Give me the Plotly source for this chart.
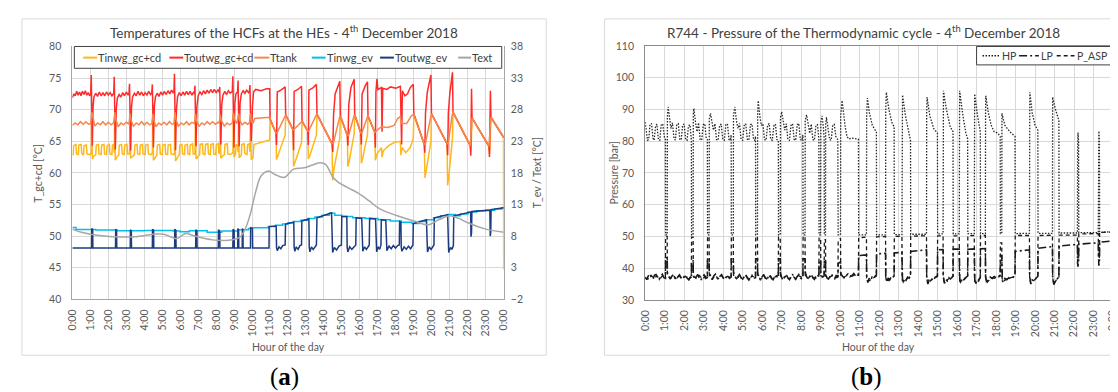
import plotly.graph_objects as go

W, H = 1118, 392
FONT = "Lato"

HOURS = list(range(25))
HOUR_LABELS = ["0:00", "1:00", "2:00", "3:00", "4:00", "5:00", "6:00", "7:00", "8:00", "9:00",
               "10:00", "11:00", "12:00", "13:00", "14:00", "15:00", "16:00", "17:00", "18:00",
               "19:00", "20:00", "21:00", "22:00", "23:00", "0:00"]
T_GC_TICKS = [40, 45, 50, 55, 60, 65, 70, 75, 80]
T_EV_TICKS = [-2, 3, 8, 13, 18, 23, 28, 33, 38]
P_TICKS = [30, 40, 50, 60, 70, 80, 90, 100, 110]

# ---------------- (a) temperatures, primary axis [°C] ----------------
TINWG_GC = [
    (0.00, 62.8), (0.04, 62.9), (0.07, 64.3), (0.20, 64.5), (0.23, 63.0), (0.33, 62.9), (0.36, 64.4),
    (0.49, 64.5), (0.52, 63.1), (0.62, 62.8), (0.65, 64.3), (0.78, 64.4), (0.81, 63.0), (0.98, 62.9),
    (1.05, 63.2), (1.08, 69.3), (1.11, 62.2), (1.18, 62.6), (1.30, 62.9), (1.33, 64.4), (1.45, 64.5),
    (1.48, 63.0), (1.60, 62.9), (1.63, 64.4), (1.76, 64.5), (1.79, 63.0), (1.90, 62.9), (1.93, 64.3),
    (2.06, 64.5), (2.09, 63.0), (2.20, 62.9), (2.23, 64.4), (2.30, 64.5), (2.33, 63.2), (2.36, 69.5),
    (2.39, 62.0), (2.48, 62.5), (2.58, 62.8), (2.61, 64.4), (2.74, 64.5), (2.77, 63.0), (2.88, 62.9),
    (2.91, 64.4), (3.04, 64.5), (3.07, 63.0), (3.15, 63.0), (3.18, 63.2), (3.21, 69.2), (3.24, 62.3),
    (3.35, 62.7), (3.45, 62.9), (3.48, 64.4), (3.60, 64.5), (3.63, 63.0), (3.75, 62.9), (3.78, 64.4),
    (3.90, 64.5), (3.93, 63.0), (4.05, 62.9), (4.08, 64.4), (4.20, 64.5), (4.23, 63.0), (4.40, 62.9),
    (4.45, 63.2), (4.48, 69.0), (4.51, 62.0), (4.60, 62.5), (4.70, 62.8), (4.73, 64.4), (4.86, 64.5),
    (4.89, 63.0), (5.00, 62.9), (5.03, 64.4), (5.16, 64.5), (5.19, 63.0), (5.30, 62.9), (5.33, 64.4),
    (5.46, 64.5), (5.49, 63.0), (5.64, 62.9), (5.68, 63.2), (5.71, 69.4), (5.74, 61.9), (5.84, 62.5),
    (5.95, 62.9), (5.98, 64.4), (6.10, 64.5), (6.13, 63.0), (6.24, 62.9), (6.27, 64.4), (6.40, 64.5),
    (6.43, 63.0), (6.53, 62.9), (6.56, 64.4), (6.69, 64.6), (6.72, 63.0), (6.80, 63.0), (6.82, 63.2),
    (6.85, 69.0), (6.88, 62.2), (6.98, 62.6), (7.08, 62.9), (7.11, 64.5), (7.24, 64.6), (7.27, 63.0),
    (7.38, 62.9), (7.41, 64.5), (7.54, 64.6), (7.57, 63.0), (7.68, 62.9), (7.71, 64.5), (7.84, 64.6),
    (7.87, 63.0), (7.98, 62.9), (8.01, 64.5), (8.12, 64.6), (8.15, 63.1), (8.20, 63.2), (8.23, 69.0),
    (8.26, 62.3), (8.36, 62.7), (8.46, 62.9), (8.49, 64.5), (8.62, 64.6), (8.65, 63.0), (8.80, 62.9),
    (8.93, 63.2), (8.96, 69.3), (8.99, 62.5), (9.08, 63.0), (9.11, 64.4), (9.19, 64.5), (9.22, 63.3),
    (9.25, 69.2), (9.28, 62.4), (9.40, 62.8), (9.43, 64.5), (9.56, 64.6), (9.59, 63.1), (9.72, 62.9),
    (9.75, 64.5), (9.84, 64.6), (9.88, 63.3), (9.91, 69.0), (9.95, 62.1), (10.05, 62.4), (10.10, 64.5),
    (10.50, 64.8), (10.98, 65.2), (11.00, 68.5), (11.33, 66.3), (11.36, 62.1), (11.45, 62.8),
    (11.84, 66.0), (11.87, 69.2), (12.28, 66.8), (12.31, 61.0), (12.40, 61.8), (12.75, 64.8),
    (12.78, 68.2), (13.10, 66.6), (13.13, 62.2), (13.22, 62.8), (13.58, 66.0), (13.61, 69.3),
    (14.45, 64.6), (14.48, 58.8), (14.55, 60.5), (14.88, 65.5), (14.91, 69.0), (15.30, 65.9),
    (15.33, 61.0), (15.40, 61.8), (15.68, 66.2), (15.71, 69.2), (16.05, 66.3), (16.08, 61.5),
    (16.15, 62.3), (16.42, 66.0), (16.45, 69.0), (16.83, 66.4), (16.86, 62.0), (16.95, 63.0),
    (17.20, 64.0), (17.23, 62.5), (17.30, 63.5), (17.60, 64.3), (17.90, 64.8), (18.25, 65.0),
    (18.28, 62.8), (18.35, 64.0), (18.55, 63.2), (18.80, 64.0), (18.97, 65.5), (19.00, 69.3),
    (19.58, 64.5), (19.62, 59.2), (19.70, 60.5), (19.95, 65.0), (19.98, 69.4), (20.85, 64.6),
    (20.88, 58.0), (20.95, 59.5), (21.15, 65.5), (21.18, 69.6), (22.14, 64.3), (22.17, 63.5),
    (22.21, 66.0), (22.24, 68.7), (23.18, 64.2), (23.21, 63.0), (23.26, 66.0), (23.29, 68.8),
    (23.99, 65.6), (24.00, 44.7)]

TOUTWG_GC = [
    (0.00, 71.9), (0.08, 72.5), (0.16, 72.2), (0.24, 72.9), (0.32, 72.3), (0.40, 72.8), (0.48, 72.2),
    (0.56, 72.9), (0.64, 72.4), (0.72, 73.0), (0.80, 72.3), (0.88, 72.7), (0.96, 72.2), (1.02, 72.5),
    (1.05, 75.5), (1.08, 69.5), (1.11, 64.3), (1.15, 70.5), (1.20, 72.0), (1.30, 72.6), (1.40, 72.1),
    (1.50, 72.8), (1.60, 72.2), (1.70, 72.7), (1.80, 72.2), (1.90, 72.8), (2.00, 72.3), (2.10, 72.7),
    (2.20, 72.2), (2.30, 72.6), (2.33, 75.2), (2.36, 69.6), (2.39, 63.7), (2.44, 70.0), (2.50, 71.8),
    (2.60, 72.4), (2.70, 72.0), (2.80, 72.7), (2.90, 72.2), (3.00, 72.8), (3.10, 72.3), (3.15, 72.6),
    (3.18, 74.1), (3.21, 69.3), (3.24, 63.5), (3.29, 70.5), (3.35, 72.0), (3.45, 72.6), (3.55, 72.2),
    (3.65, 72.9), (3.75, 72.3), (3.85, 72.8), (3.95, 72.2), (4.05, 72.7), (4.15, 72.3), (4.25, 72.9),
    (4.35, 72.4), (4.42, 72.7), (4.45, 74.0), (4.48, 69.3), (4.51, 64.0), (4.56, 70.5), (4.62, 72.0),
    (4.72, 72.6), (4.82, 72.1), (4.92, 72.8), (5.02, 72.3), (5.12, 72.9), (5.22, 72.4), (5.32, 73.0),
    (5.42, 72.5), (5.52, 73.1), (5.62, 72.6), (5.65, 72.8), (5.68, 75.7), (5.71, 69.6), (5.74, 63.6),
    (5.79, 70.0), (5.85, 72.0), (5.95, 72.7), (6.05, 72.2), (6.15, 72.8), (6.25, 72.3), (6.35, 72.9),
    (6.45, 72.4), (6.55, 72.9), (6.65, 72.3), (6.75, 72.8), (6.79, 72.5), (6.82, 73.8), (6.85, 69.3),
    (6.88, 64.2), (6.93, 70.5), (7.00, 72.2), (7.10, 72.8), (7.20, 72.4), (7.30, 73.0), (7.40, 72.5),
    (7.50, 73.1), (7.60, 72.6), (7.70, 73.2), (7.80, 72.7), (7.90, 73.2), (8.00, 72.7), (8.10, 73.1),
    (8.17, 72.8), (8.20, 73.6), (8.23, 69.2), (8.26, 64.5), (8.31, 70.8), (8.38, 72.3), (8.48, 72.9),
    (8.58, 72.4), (8.68, 73.0), (8.78, 72.6), (8.90, 72.9), (8.93, 75.3), (8.96, 69.5), (8.99, 64.0),
    (9.04, 71.0), (9.10, 72.5), (9.19, 72.8), (9.22, 74.6), (9.25, 69.4), (9.28, 64.2), (9.33, 71.0),
    (9.40, 72.5), (9.50, 73.0), (9.60, 72.6), (9.70, 73.1), (9.80, 72.7), (9.85, 72.9), (9.88, 73.9),
    (9.91, 69.4), (9.95, 65.0), (10.02, 70.5), (10.08, 72.8), (10.20, 73.2), (10.50, 73.0),
    (10.80, 73.3), (10.98, 73.3), (11.00, 68.5), (11.33, 66.3), (11.36, 64.4), (11.40, 72.8),
    (11.60, 73.1), (11.84, 73.6), (11.87, 69.2), (12.28, 66.8), (12.31, 63.6), (12.34, 72.9),
    (12.55, 73.2), (12.75, 73.7), (12.78, 68.2), (13.10, 66.6), (13.13, 64.4), (13.16, 73.1),
    (13.40, 73.5), (13.58, 74.0), (13.61, 69.3), (14.45, 64.6), (14.49, 63.3), (14.53, 69.0),
    (14.62, 72.5), (14.75, 73.6), (14.88, 74.5), (14.91, 69.0), (15.30, 65.9), (15.33, 64.3),
    (15.38, 70.8), (15.50, 73.5), (15.68, 74.8), (15.71, 69.2), (16.05, 66.3), (16.08, 64.5),
    (16.12, 72.5), (16.30, 73.8), (16.42, 74.4), (16.45, 69.0), (16.83, 66.4), (16.86, 64.0),
    (16.89, 72.8), (16.95, 74.9), (17.00, 73.2), (17.20, 73.5), (17.23, 66.5), (17.27, 73.4),
    (17.50, 73.2), (17.70, 73.6), (18.00, 73.4), (18.25, 73.7), (18.28, 66.0), (18.32, 64.5),
    (18.36, 73.0), (18.50, 72.2), (18.65, 72.5), (18.80, 73.5), (18.97, 74.0), (19.00, 69.3),
    (19.58, 64.5), (19.61, 63.2), (19.65, 69.5), (19.75, 72.8), (19.95, 75.5), (19.98, 69.4),
    (20.85, 64.6), (20.88, 62.8), (20.92, 69.5), (21.00, 72.5), (21.15, 75.9), (21.18, 69.6),
    (22.14, 64.3), (22.17, 62.7), (22.21, 73.3), (22.24, 68.7), (23.18, 64.2), (23.21, 62.5),
    (23.26, 73.0), (23.29, 68.8), (24.00, 65.6)]

TTANK = [
    (0.00, 67.5), (0.15, 67.9), (0.30, 67.6), (0.45, 68.1), (0.60, 67.7), (0.75, 68.1), (0.90, 67.7),
    (1.02, 67.8), (1.08, 69.6), (1.14, 68.6), (1.25, 67.4), (1.40, 67.9), (1.55, 67.6), (1.70, 68.1),
    (1.85, 67.6), (2.00, 68.0), (2.15, 67.6), (2.30, 67.9), (2.36, 69.6), (2.42, 68.4), (2.55, 67.3),
    (2.70, 67.9), (2.85, 67.6), (3.00, 68.0), (3.15, 67.7), (3.21, 69.4), (3.27, 68.3), (3.40, 67.4),
    (3.55, 67.9), (3.70, 67.6), (3.85, 68.1), (4.00, 67.6), (4.15, 68.0), (4.30, 67.6), (4.42, 67.8),
    (4.48, 69.3), (4.54, 68.3), (4.65, 67.3), (4.80, 67.9), (4.95, 67.6), (5.10, 68.0), (5.25, 67.6),
    (5.40, 68.1), (5.55, 67.7), (5.65, 67.8), (5.71, 69.6), (5.77, 68.4), (5.90, 67.4), (6.05, 67.9),
    (6.20, 67.6), (6.35, 68.1), (6.50, 67.6), (6.65, 68.0), (6.79, 67.8), (6.85, 69.3), (6.91, 68.2),
    (7.05, 67.4), (7.20, 67.9), (7.35, 67.6), (7.50, 68.1), (7.65, 67.7), (7.80, 68.1), (7.95, 67.7),
    (8.10, 68.0), (8.17, 67.8), (8.23, 69.2), (8.29, 68.3), (8.45, 67.4), (8.60, 67.9), (8.75, 67.6),
    (8.90, 67.9), (8.96, 69.5), (9.02, 68.5), (9.15, 67.8), (9.25, 69.4), (9.31, 68.3), (9.45, 67.6),
    (9.60, 68.0), (9.75, 67.7), (9.85, 67.9), (9.91, 69.4), (9.97, 68.0), (10.05, 67.9), (10.15, 68.6),
    (10.50, 68.7), (10.98, 68.8), (11.00, 68.5), (11.33, 66.3), (11.40, 66.4), (11.84, 69.1),
    (11.87, 69.2), (12.28, 66.8), (12.34, 66.9), (12.75, 68.1), (12.78, 68.2), (13.10, 66.6),
    (13.16, 66.7), (13.58, 69.2), (13.61, 69.3), (14.45, 64.6), (14.53, 64.8), (14.88, 68.9),
    (14.91, 69.0), (15.30, 65.9), (15.38, 66.0), (15.68, 69.1), (15.71, 69.2), (16.05, 66.3),
    (16.12, 66.4), (16.42, 68.9), (16.45, 69.0), (16.83, 66.4), (16.89, 66.6), (17.20, 67.3),
    (17.55, 67.2), (17.90, 67.5), (18.10, 68.6), (18.25, 68.9), (18.32, 67.8), (18.60, 67.8),
    (18.85, 69.0), (19.00, 69.3), (19.58, 64.5), (19.65, 64.7), (19.95, 69.2), (19.98, 69.4),
    (20.85, 64.6), (20.92, 64.9), (21.15, 69.4), (21.18, 69.6), (22.14, 64.3), (22.21, 68.5),
    (22.24, 68.7), (23.18, 64.2), (23.26, 68.6), (23.29, 68.8), (24.00, 65.6)]

# ---------------- (a) secondary axis [°C] ----------------
TINWG_EV = [
    (0.0, 9.35), (0.2, 9.05), (1.3, 8.95), (2.5, 8.85), (4.0, 8.9), (5.6, 8.8), (6.0, 8.7),
    (6.5, 8.85), (7.5, 8.6), (8.3, 8.8), (9.2, 9.0), (9.8, 9.2), (10.0, 9.3), (10.9, 9.5),
    (11.3, 9.7), (11.7, 9.9), (12.0, 10.1), (12.3, 10.3), (12.7, 10.5), (13.1, 10.8), (13.5, 11.0),
    (13.9, 11.3), (14.3, 11.6), (14.6, 11.3), (15.0, 11.1), (15.6, 10.9), (16.3, 10.8), (17.0, 10.6),
    (17.7, 10.4), (18.3, 10.2), (18.9, 10.0), (19.3, 10.3), (19.7, 10.6), (20.1, 10.9), (20.5, 11.2),
    (20.9, 11.4), (21.3, 11.2), (21.6, 11.5), (22.0, 11.8), (22.5, 12.0), (23.0, 12.1), (23.5, 12.3),
    (23.9, 12.5), (24.0, 12.5)]

TOUTWG_EV = [
    (0.00, 6.1), (1.07, 6.1), (1.08, 9.2), (1.13, 9.0), (1.14, 6.1), (2.40, 6.1), (2.41, 9.1),
    (2.46, 8.9), (2.47, 6.1), (3.22, 6.1), (3.23, 9.0), (3.28, 8.8), (3.29, 6.1), (4.45, 6.1),
    (4.46, 9.1), (4.52, 8.9), (4.53, 6.1), (5.69, 6.1), (5.70, 9.1), (5.76, 8.9), (5.77, 6.1),
    (6.86, 6.1), (6.87, 9.0), (6.93, 8.8), (6.94, 6.1), (8.12, 6.1), (8.13, 9.0), (8.20, 8.8),
    (8.21, 6.1), (8.93, 6.1), (8.94, 9.1), (9.00, 8.9), (9.01, 6.1), (9.20, 6.1), (9.21, 9.2),
    (9.25, 9.0), (9.26, 6.1), (9.45, 6.1), (9.46, 9.2), (9.49, 9.0), (9.50, 6.1), (9.91, 6.1),
    (9.92, 9.3), (10.02, 9.2), (10.03, 6.1), (10.94, 6.1), (10.95, 9.5), (11.34, 9.6), (11.36, 6.2),
    (11.40, 5.7), (11.50, 6.3), (11.60, 6.0), (11.70, 6.5), (11.84, 6.6), (11.86, 9.9), (12.32, 10.2),
    (12.34, 6.2), (12.38, 5.6), (12.46, 6.3), (12.56, 5.9), (12.66, 6.5), (12.75, 6.6), (12.77, 10.4),
    (13.16, 10.7), (13.18, 6.2), (13.22, 5.5), (13.30, 6.3), (13.40, 5.9), (13.58, 6.6), (13.61, 10.9),
    (14.42, 11.7), (14.44, 6.2), (14.48, 5.4), (14.58, 6.2), (14.70, 5.8), (14.84, 6.4), (14.97, 6.6),
    (14.99, 11.1), (15.27, 11.1), (15.29, 6.2), (15.33, 5.5), (15.43, 6.3), (15.55, 5.9), (15.77, 6.6),
    (15.79, 10.9), (16.10, 10.8), (16.12, 6.2), (16.16, 5.6), (16.26, 6.3), (16.36, 5.9), (16.52, 6.6),
    (16.54, 10.8), (16.87, 10.7), (16.89, 6.2), (16.93, 5.5), (17.02, 6.3), (17.10, 5.9), (17.17, 6.6),
    (17.19, 10.6), (17.44, 10.5), (17.46, 6.3), (17.50, 5.7), (17.62, 6.4), (17.74, 6.0), (17.86, 6.5),
    (17.98, 6.1), (18.10, 6.5), (18.19, 6.6), (18.21, 10.3), (18.28, 10.2), (18.30, 6.2), (18.34, 5.6),
    (18.46, 6.3), (18.58, 5.9), (18.70, 6.4), (18.82, 6.0), (18.95, 6.6), (18.97, 10.0), (19.70, 10.6),
    (19.72, 6.2), (19.76, 5.5), (19.86, 6.3), (19.96, 5.9), (20.12, 6.6), (20.14, 10.9), (20.88, 11.4),
    (20.90, 6.0), (20.94, 5.4), (21.04, 6.2), (21.12, 5.9), (21.20, 6.5), (21.22, 11.2), (22.16, 11.8),
    (22.18, 7.9), (22.21, 8.5), (22.23, 11.9), (23.23, 12.1), (23.25, 8.0), (23.28, 8.6), (23.30, 12.2),
    (24.00, 12.5)]

TEXT = [
    (0.0, 9.1), (0.5, 8.6), (1.5, 8.1), (2.6, 7.85), (3.5, 7.9), (4.5, 8.3), (5.1, 8.3), (5.8, 7.6),
    (6.3, 8.4), (6.8, 8.0), (7.8, 7.4), (8.7, 7.35), (9.3, 7.8), (9.6, 9.0), (9.9, 11.5), (10.2, 15.0),
    (10.5, 17.5), (10.9, 18.3), (11.3, 17.7), (11.8, 17.3), (12.3, 18.6), (12.9, 18.8), (13.4, 19.3),
    (13.8, 19.6), (14.1, 19.3), (14.5, 17.3), (14.8, 16.5), (15.3, 15.7), (15.9, 14.8), (16.5, 13.6),
    (17.0, 12.5), (17.4, 11.9), (18.2, 11.1), (19.0, 10.4), (19.8, 9.8), (20.4, 10.6), (21.0, 11.2),
    (21.5, 10.8), (22.0, 10.1), (23.0, 9.1), (24.0, 8.6)]

# ---------------- (b) pressures [bar] ----------------
HP = [
    (0.00, 86.0), (0.06, 83.5), (0.12, 80.3), (0.18, 80.5), (0.25, 85.2), (0.33, 85.6), (0.40, 81.0),
    (0.46, 80.3), (0.53, 84.5), (0.60, 85.4), (0.68, 80.5), (0.75, 80.3), (0.82, 85.0), (0.90, 85.5),
    (0.98, 81.5), (1.04, 80.5), (1.05, 50.5), (1.13, 50.5), (1.14, 88.0), (1.18, 90.8), (1.25, 86.5),
    (1.32, 84.0), (1.40, 85.8), (1.48, 80.8), (1.55, 80.4), (1.62, 85.3), (1.70, 85.5), (1.78, 80.6),
    (1.85, 80.4), (1.92, 85.0), (2.00, 85.4), (2.08, 80.5), (2.15, 80.3), (2.22, 84.8), (2.30, 85.2),
    (2.37, 80.5), (2.38, 50.5), (2.46, 50.5), (2.47, 88.5), (2.50, 90.3), (2.58, 86.0), (2.66, 83.0),
    (2.74, 85.8), (2.82, 80.6), (2.90, 80.3), (2.98, 85.2), (3.06, 85.5), (3.13, 81.0), (3.19, 80.5),
    (3.20, 50.5), (3.28, 50.5), (3.29, 87.0), (3.35, 88.8), (3.42, 86.0), (3.50, 83.5), (3.58, 85.5),
    (3.66, 80.5), (3.74, 80.3), (3.82, 85.0), (3.90, 85.4), (3.98, 80.6), (4.06, 80.3), (4.14, 85.2),
    (4.22, 85.5), (4.30, 80.5), (4.36, 80.3), (4.41, 82.0), (4.42, 50.5), (4.52, 50.5), (4.53, 88.0),
    (4.60, 90.8), (4.68, 86.5), (4.76, 84.0), (4.84, 85.6), (4.92, 80.5), (5.00, 80.3), (5.08, 85.0),
    (5.16, 85.5), (5.24, 80.6), (5.32, 80.3), (5.40, 85.2), (5.48, 85.4), (5.56, 80.5), (5.62, 80.3),
    (5.66, 81.5), (5.67, 50.5), (5.76, 50.5), (5.77, 89.0), (5.80, 92.8), (5.88, 88.0), (5.96, 85.0),
    (6.04, 85.5), (6.12, 80.5), (6.20, 80.3), (6.28, 85.0), (6.36, 85.6), (6.44, 80.6), (6.52, 80.3),
    (6.60, 84.8), (6.68, 85.4), (6.76, 80.5), (6.83, 80.3), (6.84, 50.5), (6.93, 50.5), (6.94, 87.5),
    (7.00, 89.3), (7.08, 86.0), (7.16, 83.5), (7.24, 85.5), (7.32, 80.5), (7.40, 80.3), (7.48, 85.0),
    (7.56, 85.5), (7.64, 80.6), (7.72, 80.3), (7.80, 85.2), (7.88, 85.6), (7.96, 80.5), (8.04, 80.3),
    (8.09, 82.0), (8.10, 50.5), (8.20, 50.5), (8.21, 86.5), (8.28, 88.3), (8.36, 85.5), (8.44, 82.5),
    (8.52, 85.4), (8.60, 80.5), (8.68, 80.3), (8.76, 85.0), (8.84, 85.2), (8.91, 80.5), (8.92, 50.5),
    (9.00, 50.5), (9.01, 86.0), (9.07, 88.0), (9.14, 84.5), (9.18, 81.0), (9.19, 50.5), (9.25, 50.5),
    (9.26, 85.5), (9.30, 87.5), (9.38, 84.0), (9.46, 80.5), (9.54, 80.3), (9.62, 85.0), (9.70, 85.3),
    (9.78, 81.5), (9.88, 80.5), (9.90, 50.5), (10.02, 50.5), (10.03, 88.0), (10.10, 92.8),
    (10.18, 88.0), (10.26, 84.5), (10.35, 81.5), (10.45, 80.7), (10.60, 81.0), (10.80, 80.8),
    (10.94, 80.6), (10.95, 50.5), (11.35, 50.5), (11.36, 88.0), (11.40, 93.6), (11.50, 89.0),
    (11.65, 85.0), (11.80, 83.5), (11.86, 83.0), (11.87, 50.5), (12.33, 50.5), (12.34, 90.0),
    (12.37, 95.4), (12.50, 90.0), (12.65, 86.0), (12.77, 84.5), (12.78, 50.6), (13.17, 50.6),
    (13.18, 90.0), (13.20, 94.6), (13.35, 88.0), (13.50, 83.0), (13.61, 80.2), (13.62, 50.7),
    (14.43, 50.7), (14.44, 89.0), (14.46, 93.9), (14.60, 88.0), (14.80, 84.0), (14.99, 82.5),
    (15.00, 50.8), (15.28, 50.8), (15.29, 90.0), (15.30, 95.9), (15.45, 90.0), (15.65, 84.5),
    (15.79, 83.0), (15.80, 50.8), (16.11, 50.8), (16.12, 90.0), (16.13, 95.9), (16.30, 88.0),
    (16.45, 82.5), (16.54, 80.8), (16.55, 50.9), (16.88, 50.9), (16.89, 90.0), (16.90, 94.9),
    (17.05, 88.0), (17.19, 83.0), (17.20, 50.9), (17.45, 50.9), (17.46, 89.0), (17.47, 94.3),
    (17.60, 89.0), (17.75, 85.0), (17.90, 83.0), (18.10, 82.5), (18.21, 81.5), (18.22, 50.9),
    (18.29, 50.9), (18.30, 88.8), (18.45, 85.0), (18.70, 83.0), (18.97, 81.5), (18.98, 50.9),
    (19.71, 51.0), (19.72, 90.0), (19.73, 95.4), (19.85, 89.0), (20.00, 85.0), (20.14, 83.5),
    (20.15, 51.0), (20.89, 51.0), (20.90, 93.9), (21.00, 91.0), (21.15, 87.5), (21.22, 86.5),
    (21.23, 51.1), (22.17, 51.1), (22.18, 78.0), (22.20, 82.7), (22.23, 80.0), (22.24, 51.2),
    (23.24, 51.2), (23.25, 79.0), (23.27, 83.2), (23.30, 80.0), (23.31, 51.3), (23.98, 51.5),
    (24.00, 53.0)]

LP = [
    (0.00, 37.2), (0.08, 36.4), (0.16, 37.6), (0.24, 38.2), (0.32, 37.0), (0.40, 36.6), (0.48, 37.8),
    (0.56, 38.0), (0.64, 37.1), (0.72, 36.5), (0.80, 37.5), (0.88, 38.1), (0.96, 37.0), (1.04, 36.8),
    (1.05, 43.3), (1.13, 43.3), (1.14, 38.6), (1.20, 37.5), (1.28, 36.6), (1.36, 37.4), (1.44, 38.0),
    (1.52, 36.9), (1.60, 36.4), (1.68, 37.3), (1.76, 37.9), (1.84, 37.0), (1.92, 36.5), (2.00, 37.4),
    (2.08, 37.8), (2.16, 36.8), (2.24, 36.3), (2.32, 37.2), (2.37, 36.9), (2.38, 42.0), (2.46, 42.5),
    (2.47, 38.0), (2.54, 36.5), (2.62, 37.3), (2.70, 38.0), (2.78, 36.9), (2.86, 36.2), (2.94, 37.4),
    (3.02, 37.9), (3.10, 36.8), (3.19, 37.1), (3.20, 43.0), (3.28, 43.0), (3.29, 38.5), (3.36, 37.2),
    (3.44, 36.4), (3.52, 37.6), (3.60, 38.1), (3.68, 37.0), (3.76, 36.5), (3.84, 37.5), (3.92, 38.0),
    (4.00, 36.9), (4.08, 36.4), (4.16, 37.3), (4.24, 37.8), (4.32, 36.8), (4.41, 37.2), (4.42, 43.0),
    (4.52, 43.0), (4.53, 38.8), (4.60, 37.5), (4.68, 36.5), (4.76, 37.3), (4.84, 38.0), (4.92, 37.0),
    (5.00, 36.4), (5.08, 37.4), (5.16, 38.0), (5.24, 36.9), (5.32, 36.3), (5.40, 37.2), (5.48, 37.9),
    (5.56, 36.8), (5.66, 37.0), (5.67, 43.0), (5.76, 43.0), (5.77, 38.3), (5.84, 37.0), (5.92, 36.2),
    (6.00, 37.3), (6.08, 38.0), (6.16, 36.9), (6.24, 36.3), (6.32, 37.4), (6.40, 37.9), (6.48, 36.8),
    (6.56, 36.4), (6.64, 37.3), (6.72, 37.8), (6.83, 37.0), (6.84, 43.0), (6.93, 43.0), (6.94, 38.5),
    (7.00, 37.0), (7.08, 36.3), (7.16, 37.5), (7.24, 38.0), (7.32, 36.9), (7.40, 36.4), (7.48, 37.4),
    (7.56, 38.1), (7.64, 37.0), (7.72, 36.5), (7.80, 37.4), (7.88, 38.0), (7.96, 36.9), (8.04, 36.6),
    (8.09, 37.2), (8.10, 43.0), (8.20, 43.0), (8.21, 38.8), (8.28, 37.3), (8.36, 36.5), (8.44, 37.5),
    (8.52, 38.1), (8.60, 37.0), (8.68, 36.5), (8.76, 37.6), (8.84, 38.0), (8.91, 37.2), (8.92, 42.5),
    (9.00, 42.5), (9.01, 38.5), (9.08, 37.2), (9.18, 37.6), (9.19, 42.0), (9.25, 42.0), (9.26, 38.3),
    (9.32, 37.0), (9.40, 36.6), (9.48, 37.6), (9.56, 38.2), (9.64, 37.1), (9.72, 36.7), (9.80, 37.7),
    (9.89, 37.3), (9.90, 41.5), (10.02, 42.0), (10.03, 38.5), (10.10, 37.6), (10.20, 37.0),
    (10.30, 37.8), (10.40, 38.2), (10.50, 37.3), (10.60, 37.6), (10.70, 38.3), (10.80, 37.5),
    (10.94, 37.8), (10.95, 44.0), (11.35, 44.2), (11.36, 37.5), (11.38, 36.0), (11.42, 35.5),
    (11.48, 36.8), (11.56, 36.2), (11.64, 37.2), (11.72, 36.8), (11.80, 37.5), (11.86, 37.8),
    (11.87, 44.5), (12.33, 44.7), (12.34, 37.5), (12.36, 36.2), (12.40, 35.6), (12.46, 36.9),
    (12.54, 36.3), (12.62, 37.3), (12.70, 37.0), (12.77, 37.8), (12.78, 44.8), (13.17, 45.0),
    (13.18, 37.5), (13.20, 36.0), (13.24, 35.4), (13.30, 36.8), (13.38, 36.2), (13.46, 37.2),
    (13.54, 36.9), (13.61, 37.8), (13.62, 45.3), (14.43, 45.8), (14.44, 37.5), (14.46, 35.8),
    (14.50, 35.0), (14.56, 36.2), (14.64, 35.8), (14.72, 36.8), (14.80, 36.4), (14.88, 37.2),
    (14.99, 37.6), (15.00, 45.8), (15.28, 45.9), (15.29, 37.5), (15.31, 35.9), (15.35, 35.2),
    (15.42, 36.5), (15.50, 36.0), (15.58, 37.0), (15.66, 36.6), (15.79, 37.5), (15.80, 46.0),
    (16.11, 46.0), (16.12, 37.5), (16.14, 36.0), (16.18, 35.3), (16.25, 36.5), (16.33, 36.1),
    (16.42, 37.0), (16.54, 37.5), (16.55, 46.0), (16.88, 46.1), (16.89, 37.5), (16.91, 35.8),
    (16.95, 35.0), (17.02, 36.4), (17.10, 36.0), (17.19, 37.2), (17.20, 46.1), (17.45, 46.2),
    (17.46, 37.5), (17.48, 36.0), (17.52, 35.2), (17.60, 36.6), (17.70, 37.2), (17.80, 36.8),
    (17.90, 37.4), (18.00, 37.0), (18.10, 37.5), (18.21, 37.7), (18.22, 44.0), (18.29, 44.0),
    (18.30, 37.5), (18.32, 36.2), (18.36, 35.6), (18.45, 36.8), (18.55, 36.4), (18.65, 37.0),
    (18.75, 36.6), (18.85, 37.2), (18.97, 37.6), (18.98, 45.3), (19.71, 45.8), (19.72, 37.5),
    (19.74, 35.8), (19.78, 35.0), (19.85, 36.3), (19.95, 36.0), (20.05, 36.9), (20.14, 37.4),
    (20.15, 46.3), (20.89, 46.8), (20.90, 37.5), (20.92, 35.6), (20.96, 34.8), (21.03, 36.0),
    (21.12, 36.5), (21.22, 37.2), (21.23, 47.0), (22.17, 47.5), (22.18, 41.5), (22.20, 40.5),
    (22.23, 42.0), (22.24, 47.6), (23.24, 48.0), (23.25, 42.0), (23.27, 40.8), (23.30, 42.5),
    (23.31, 48.2), (23.99, 48.6), (24.00, 53.0)]

P_ASP = [
    (0.00, 37.0), (0.15, 36.6), (0.30, 37.8), (0.45, 36.8), (0.60, 37.5), (0.75, 36.6), (0.90, 37.7),
    (1.04, 37.0), (1.05, 50.0), (1.13, 50.0), (1.14, 37.6), (1.30, 36.8), (1.45, 37.7), (1.60, 36.6),
    (1.75, 37.6), (1.90, 36.7), (2.05, 37.5), (2.20, 36.5), (2.37, 37.2), (2.38, 49.8), (2.46, 49.8),
    (2.47, 37.5), (2.62, 36.8), (2.78, 37.7), (2.94, 36.6), (3.10, 37.5), (3.19, 37.0), (3.20, 50.0),
    (3.28, 50.0), (3.29, 37.5), (3.44, 36.6), (3.60, 37.7), (3.76, 36.7), (3.92, 37.6), (4.08, 36.6),
    (4.24, 37.5), (4.41, 37.0), (4.42, 49.9), (4.52, 49.9), (4.53, 37.8), (4.68, 36.7), (4.84, 37.6),
    (5.00, 36.5), (5.16, 37.6), (5.32, 36.6), (5.48, 37.5), (5.66, 37.0), (5.67, 50.0), (5.76, 50.0),
    (5.77, 37.5), (5.92, 36.5), (6.08, 37.6), (6.24, 36.6), (6.40, 37.5), (6.56, 36.7), (6.72, 37.5),
    (6.83, 37.0), (6.84, 49.8), (6.93, 49.8), (6.94, 37.6), (7.08, 36.6), (7.24, 37.7), (7.40, 36.6),
    (7.56, 37.6), (7.72, 36.7), (7.88, 37.6), (8.09, 37.0), (8.10, 50.0), (8.20, 50.0), (8.21, 37.8),
    (8.36, 36.8), (8.52, 37.7), (8.68, 36.8), (8.91, 37.2), (8.92, 49.5), (9.00, 49.5), (9.01, 37.6),
    (9.18, 37.2), (9.19, 49.0), (9.25, 49.0), (9.26, 37.5), (9.40, 36.8), (9.56, 37.6), (9.72, 36.9),
    (9.89, 37.2), (9.90, 48.5), (10.02, 49.5), (10.03, 37.8), (10.20, 37.2), (10.40, 37.9),
    (10.60, 37.5), (10.80, 37.9), (10.94, 37.8), (10.95, 49.6), (11.35, 49.8), (11.36, 37.0),
    (11.42, 35.8), (11.60, 36.5), (11.86, 37.6), (11.87, 49.9), (12.33, 50.0), (12.34, 37.0),
    (12.40, 35.8), (12.60, 36.8), (12.77, 37.6), (12.78, 50.0), (13.17, 50.1), (13.18, 37.0),
    (13.24, 35.6), (13.45, 36.8), (13.61, 37.6), (13.62, 50.1), (14.43, 50.2), (14.44, 37.0),
    (14.50, 35.2), (14.70, 36.4), (14.99, 37.4), (15.00, 50.2), (15.28, 50.2), (15.29, 37.0),
    (15.35, 35.4), (15.55, 36.6), (15.79, 37.4), (15.80, 50.2), (16.11, 50.2), (16.12, 37.0),
    (16.18, 35.5), (16.38, 36.6), (16.54, 37.4), (16.55, 50.2), (16.88, 50.3), (16.89, 37.0),
    (16.95, 35.2), (17.19, 37.0), (17.20, 50.3), (17.45, 50.3), (17.46, 37.0), (17.52, 35.4),
    (17.75, 37.0), (18.00, 36.8), (18.21, 37.5), (18.22, 48.0), (18.29, 48.0), (18.30, 37.0),
    (18.36, 35.8), (18.60, 36.8), (18.97, 37.4), (18.98, 50.3), (19.71, 50.3), (19.72, 37.0),
    (19.78, 35.2), (19.95, 36.2), (20.14, 37.3), (20.15, 50.3), (20.89, 50.4), (20.90, 37.0),
    (20.96, 35.0), (21.10, 36.4), (21.22, 37.2), (21.23, 50.4), (22.17, 50.4), (22.18, 42.0),
    (22.23, 43.0), (22.24, 50.8), (23.24, 50.9), (23.25, 43.0), (23.30, 43.5), (23.31, 51.3),
    (23.99, 51.4), (24.00, 53.0)]


def unzip(pairs):
    return [p[0] for p in pairs], [p[1] for p in pairs]


def px(x):
    return x / W


def py(y):
    return 1 - y / H


fig = go.Figure()

# ---- panel (a) ----
series_a = [
    (TINWG_GC, "#FFB81C", "y", "linear"),
    (TOUTWG_GC, "#FF2A2A", "y", "linear"),
    (TTANK, "#F4874B", "y", "linear"),
    (TINWG_EV, "#00BFF0", "y2", "hv"),
    (TOUTWG_EV, "#1C3B80", "y2", "linear"),
    (TEXT, "#A6A6A6", "y2", "spline"),
]
for pairs, color, yax, shape in series_a:
    xs, ys = unzip(pairs)
    fig.add_trace(go.Scatter(x=xs, y=ys, mode="lines", xaxis="x", yaxis=yax,
                             line=dict(color=color, width=1.5, shape=shape),
                             showlegend=False, hoverinfo="skip"))

# ---- panel (b) ----
series_b = [
    (HP, dict(color="#262626", width=1.3, dash="1.5px,1.5px")),
    (LP, dict(color="#1A1A1A", width=1.6, dash="8px,3px,2px,3px")),
    (P_ASP, dict(color="#1A1A1A", width=1.3, dash="4px,3px")),
]
for pairs, ln in series_b:
    xs, ys = unzip(pairs)
    fig.add_trace(go.Scatter(x=xs, y=ys, mode="lines", xaxis="x2", yaxis="y3",
                             line=ln, showlegend=False, hoverinfo="skip"))

TICKFONT = dict(family=FONT, size=10.5, color="#595959")
GRID = "#D9D9D9"
AXLINE = "#A6A6A6"

common_x = dict(range=[0, 24], tickvals=HOURS, ticktext=HOUR_LABELS, tickangle=-90,
                showgrid=True, gridcolor=GRID, gridwidth=1, showline=True,
                linewidth=1, ticks="outside", ticklen=5, tickcolor="rgba(0,0,0,0)",
                tickfont=TICKFONT, zeroline=False, fixedrange=True)

fig.update_layout(
    width=W, height=H, margin=dict(l=0, r=0, t=0, b=0),
    paper_bgcolor="white", plot_bgcolor="white",
    font=dict(family=FONT, color="#595959"),
    xaxis=dict(domain=[px(58), px(494)], anchor="y", linecolor=AXLINE, **common_x),
    yaxis=dict(domain=[py(294.3), py(33.5)], range=[40, 80], tickvals=T_GC_TICKS,
               showgrid=True, gridcolor=GRID, showline=True, linecolor=AXLINE,
               ticks="outside", ticklen=8, tickcolor="rgba(0,0,0,0)", tickfont=TICKFONT,
               zeroline=False, anchor="x", fixedrange=True),
    yaxis2=dict(overlaying="y", side="right", anchor="x", range=[-2, 38], tickvals=T_EV_TICKS,
                showgrid=False, showline=True, linecolor=AXLINE, ticks="outside", ticklen=4,
                tickcolor="rgba(0,0,0,0)", tickfont=TICKFONT, zeroline=False, fixedrange=True),
    xaxis2=dict(domain=[px(637), px(1110)], anchor="y3", mirror=True, linecolor="#8C8C8C",
                **common_x),
    yaxis3=dict(domain=[py(295), py(33)], range=[30, 110], tickvals=P_TICKS, anchor="x2",
                showgrid=True, gridcolor=GRID, showline=True, mirror=True, linecolor="#8C8C8C",
                ticks="outside", ticklen=8, tickcolor="rgba(0,0,0,0)", tickfont=TICKFONT,
                zeroline=False, fixedrange=True),
)

shapes = []
# chart containers
shapes.append(dict(type="rect", xref="paper", yref="paper", x0=px(7), x1=px(537), y0=py(352),
                   y1=py(5), line=dict(color="#D9D9D9", width=1), layer="below"))
shapes.append(dict(type="rect", xref="paper", yref="paper", x0=px(596), x1=px(1130), y0=py(352),
                   y1=py(5), line=dict(color="#D9D9D9", width=1), layer="below"))
# legend boxes
shapes.append(dict(type="rect", xref="paper", yref="paper", x0=px(60), x1=px(492), y0=py(56),
                   y1=py(33.5), line=dict(color="#404040", width=1), fillcolor="white"))
shapes.append(dict(type="rect", xref="paper", yref="paper", x0=px(972), x1=px(1108), y0=py(52.5),
                   y1=py(33.5), line=dict(color="#404040", width=1), fillcolor="white"))

annotations = []
LEG_A = [("Tinwg_gc+cd", "#FFB81C", 69, 83), ("Toutwg_gc+cd", "#FF2A2A", 156, 170),
         ("Ttank", "#F4874B", 242, 257), ("Tinwg_ev", "#00BFF0", 300, 314),
         ("Toutwg_ev", "#1C3B80", 369, 383), ("Text", "#A6A6A6", 448, 461)]
for name, color, x0, x1 in LEG_A:
    shapes.append(dict(type="line", xref="paper", yref="paper", x0=px(x0), x1=px(x1),
                       y0=py(45), y1=py(45), line=dict(color=color, width=2)))
    annotations.append(dict(text=name, x=px(x1 - 1), y=py(45), xref="paper", yref="paper",
                            xanchor="left", yanchor="middle", showarrow=False,
                            font=dict(family=FONT, size=11, color="#404040")))
LEG_B = [("HP", "1.5px,1.5px", 978, 996), ("LP", "8px,3px,2px,3px", 1015, 1035),
         ("P_ASP", "4px,3px", 1053, 1071)]
for name, dash, x0, x1 in LEG_B:
    shapes.append(dict(type="line", xref="paper", yref="paper", x0=px(x0), x1=px(x1),
                       y0=py(43), y1=py(43), line=dict(color="#1A1A1A", width=1.5, dash=dash)))
    annotations.append(dict(text=name, x=px(x1), y=py(43), xref="paper", yref="paper",
                            xanchor="left", yanchor="middle", showarrow=False,
                            font=dict(family=FONT, size=10.5, color="#404040")))


def label(text, x, y, size=10, angle=0, color="#595959", family=FONT, anchor="center"):
    annotations.append(dict(text=text, x=px(x), y=py(y), xref="paper", yref="paper",
                            xanchor=anchor, yanchor="middle", showarrow=False, textangle=angle,
                            font=dict(family=family, size=size, color=color)))


label("Temperatures of the HCFs at the HEs - 4<sup>th</sup> December 2018", 272, 19, size=13.5,
      color="#404040")
label("R744 - Pressure of the Thermodynamic cycle - 4<sup>th</sup> December 2018", 858, 19,
      size=13.5, color="#404040")
label("Hour of the day", 276, 344, size=10.5)
label("Hour of the day", 873, 344, size=10.5)
label("T_gc+cd [°C]", 23, 164, size=10.5, angle=-90)
label("T_ev / Text [°C]", 528, 164, size=10.5, angle=-90)
label("Pressure [bar]", 605, 164, size=10.5, angle=-90)
label("(<b>a</b>)", 272, 374, size=25, color="#000000", family="Liberation Serif")
label("(<b>b</b>)", 861, 374, size=25, color="#000000", family="Liberation Serif")

fig.update_layout(shapes=shapes, annotations=annotations)
fig.write_html("out.html")
